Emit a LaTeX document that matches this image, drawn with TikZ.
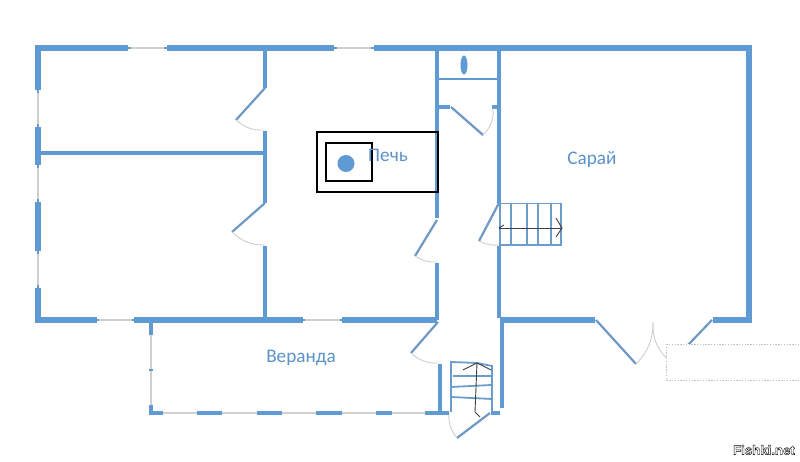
\documentclass[tikz,border=0pt]{standalone}
\usepackage{fontspec}
\setmainfont{Carlito}
\newfontfamily\markfont{Liberation Sans}
\definecolor{wallblue}{HTML}{5F9AD2}
\definecolor{doorblue}{HTML}{7098C4}
\definecolor{txtblue}{HTML}{5B93C8}
\definecolor{thingrey}{HTML}{CFCFCF}
\definecolor{stairblue}{HTML}{6C9CCB}
\newdimen\pxu
\pxu=0.01cm
\newcommand{\outlined}[1]{\special{pdf:code q 1 Tr 0.12 w}#1\special{pdf:code Q}}
\tikzset{
  wallA/.style={draw=wallblue,line width=6\pxu},
  wallB/.style={draw=wallblue,line width=4\pxu},
  wallC/.style={draw=wallblue,line width=2\pxu},
  nub/.style={draw=doorblue,line width=2.5\pxu},
  glass/.style={draw=thingrey,line width=1.1\pxu},
  leaf/.style={draw=doorblue,line width=2.2\pxu},
  swing/.style={draw=thingrey,line width=0.9\pxu},
  stair/.style={draw=stairblue,line width=1.8\pxu},
  flow/.style={draw=black!75,line width=0.9\pxu},
  stove/.style={draw=black,line width=2\pxu},
  roomtext/.style={text=txtblue,font=\fontsize{11.5\pxu}{13\pxu}\selectfont,scale=1.67,inner sep=0pt},
  yard/.style={draw=black!24,line width=0.9\pxu,dash pattern=on 1.4\pxu off 1.4\pxu,fill=white}
}
\begin{document}
\begin{tikzpicture}[x=0.01cm,y=-0.01cm]
\useasboundingbox[fill=white] (0,0) rectangle (800,462);
% outer thick walls
\path[wallA] (35,48) -- (128,48);
\path[wallA] (167,48) -- (334,48);
\path[wallA] (374,48) -- (752,48);
\path[wallA] (38,45) -- (38,90);
\path[wallA] (38,127) -- (38,165);
\path[wallA] (38,202) -- (38,251);
\path[wallA] (38,288) -- (38,323);
\path[wallA] (35,320) -- (97,320);
\path[wallA] (134,320) -- (303,320);
\path[wallA] (342,320) -- (437,320);
\path[wallA] (749,45) -- (749,323);
\path[wallA] (500,320) -- (595,320);
\path[wallA] (713,320) -- (752,320);
% window and gap lines
\path[glass] (128,48) -- (167,48);
\path[glass] (334,48) -- (374,48);
\path[glass] (38,90) -- (38,127);
\path[glass] (38,165) -- (38,202);
\path[glass] (38,251) -- (38,288);
\path[glass] (97,320) -- (134,320);
\path[glass] (303,320) -- (342,320);
\path[nub] (128,48) -- (131,48);
\path[nub] (164,48) -- (167,48);
\path[nub] (334,48) -- (337,48);
\path[nub] (371,48) -- (374,48);
\path[nub] (38,90) -- (38,93);
\path[nub] (38,124) -- (38,127);
\path[nub] (38,165) -- (38,168);
\path[nub] (38,199) -- (38,202);
\path[nub] (38,251) -- (38,254);
\path[nub] (38,285) -- (38,288);
\path[nub] (97,320) -- (99,320);
\path[nub] (132,320) -- (134,320);
\path[nub] (303,320) -- (305,320);
\path[nub] (340,320) -- (342,320);
% inner walls
\path[wallB] (41,153) -- (264,153);
\path[wallB] (265,48) -- (265,88);
\path[wallB] (265,131) -- (265,203);
\path[wallB] (265,246) -- (265,320);
\path[wallB] (437,48) -- (437,218);
\path[wallB] (437,263) -- (437,320);
\path[wallB] (499,48) -- (499,203);
\path[wallB] (499,246) -- (499,318);
\path[wallB] (502,320) -- (502,408);
\path[wallB] (440,364) -- (440,412);
\path[wallC] (437,79) -- (499,79);
\path[wallB] (439,107) -- (450,107);
\path[wallB] (492,107) -- (497,107);
% toilet fixture
\path[fill=wallblue] (464,65) ellipse (3.5 and 9.5);
% doors
\path[leaf] (265,88) -- (236,120);
\path[swing] (236,120) to[bend right=22] (265,130);
\path[leaf] (265,203) -- (232,232);
\path[swing] (232,232) to[bend right=22] (265,245);
\path[leaf] (437,220) -- (415,256);
\path[swing] (415,256) to[bend right=18] (437,262);
\path[leaf] (499,203) -- (479,241);
\path[swing] (479,241) to[bend right=15] (499,245);
\path[leaf] (451,107) -- (483,135);
\path[swing] (483,135) to[bend right=25] (493,108);
\path[leaf] (438,322) -- (411,353);
\path[swing] (411,353) to[bend right=22] (438,363);
\path[leaf] (490,413) -- (457,438);
\path[swing] (457,438) to[bend left=22] (449,413);
\path[leaf] (596,320) -- (636,364);
\path[swing] (636,364) to[bend right=22] (653,322);
\path[swing] (653,322) to[bend right=22] (666,358);
\path[leaf] (712,320) -- (688,345);
% stove
\path[stove] (316.5,132.5) rectangle (438,192);
\path[stove] (326,143) rectangle (372,181);
\path[fill=wallblue] (346,163.5) circle (8.5);
\node[roomtext] (stovelabel) at (388,155) {Печь};
% stairs to the barn
\path[stair] (500,203.5) rectangle (561,245);
\path[stair] (511,203.5) -- (511,245);
\path[stair] (527,203.5) -- (527,245);
\path[stair] (538,203.5) -- (538,245);
\path[stair] (551,203.5) -- (551,245);
\path[flow] (499,228) -- (562,228);
\path[flow] (556,218) -- (562,228) -- (556,237);
\path[flow] (499,228) -- (504,225);
% stairs at the veranda
\path[stair] (451,412) -- (451,362) -- (477,363) -- (492,366) -- (492,412);
\path[stair] (453,376) -- (492,376);
\path[stair] (451,387) -- (492,385);
\path[stair] (451,397) -- (492,399);
\path[flow] (477,363) -- (475,412) -- (480,417);
\path[flow] (463,370) -- (477,363) -- (491,370);
% veranda
\path[wallB] (151,322) -- (151,335);
\path[glass] (151,335) -- (151,413);
\path[wallC] (149,370) -- (153,370);
\path[wallB] (151,405) -- (151,413);
\path[glass] (150,413) -- (425,413);
\path[wallB] (149,413) -- (163,413);
\path[wallB] (197,413) -- (222,413);
\path[wallB] (257,413) -- (282,413);
\path[wallB] (316,413) -- (342,413);
\path[wallB] (376,413) -- (392,413);
\path[wallB] (425,413) -- (449,413);
\path[wallB] (491,413) -- (500,413);
\node[roomtext] (verandalabel) at (301,357.5) {Веранда};
\node[roomtext] (barnlabel) at (592,160) {Сарай};
% yard outline
\path[yard] (666,344) rectangle (803,380);
% watermark
\node[inner sep=0pt,text=black,font=\markfont\bfseries\fontsize{13.2\pxu}{15\pxu}\selectfont] (mark) at (764,450) {\outlined{Fishki.net}};
\end{tikzpicture}
\end{document}
